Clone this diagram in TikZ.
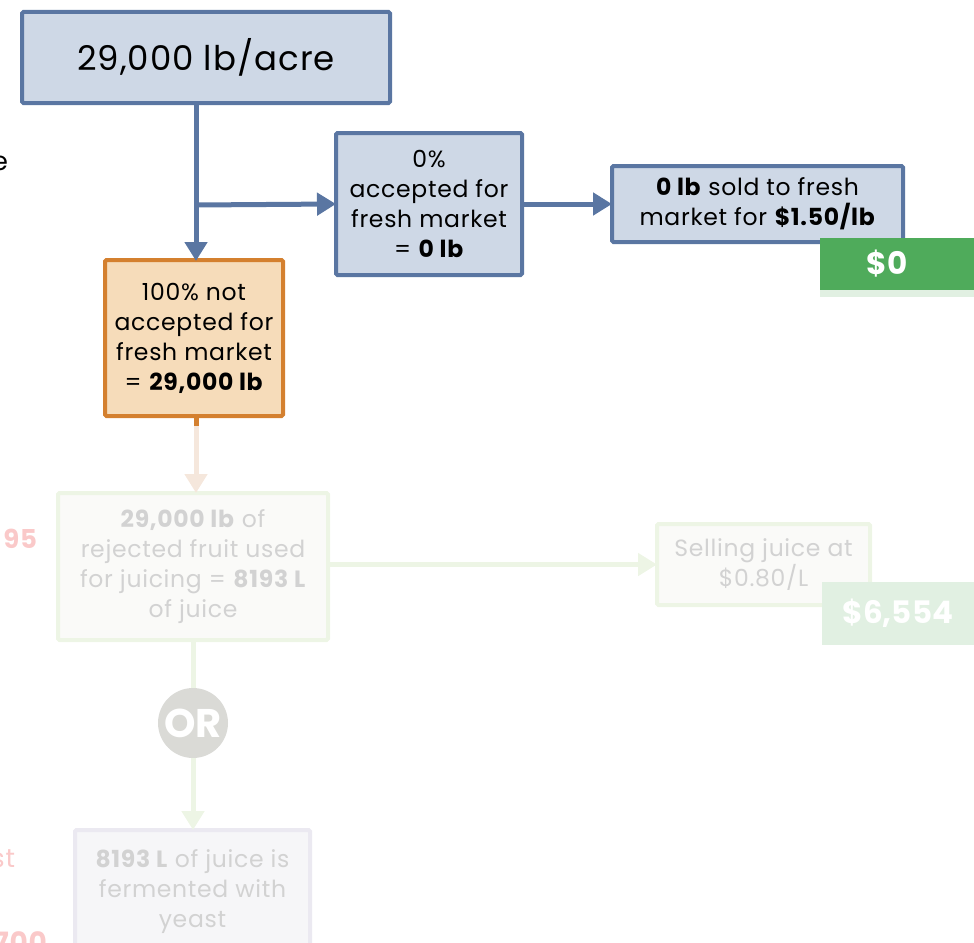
\documentclass[tikz,border=0pt]{standalone}
\usepackage{fontspec}
\setmainfont{Poppins}[LetterSpace=3]
\newfontfamily\tightfont{Poppins}
\usetikzlibrary{arrows.meta}

\definecolor{bluefill}{HTML}{CED8E6}
\definecolor{blueline}{HTML}{5A76A2}
\definecolor{orfill}{HTML}{F6DCBA}
\definecolor{orline}{HTML}{D4802F}
\definecolor{orpale}{HTML}{F5E7DC}
\definecolor{grnpale}{HTML}{EDF5E5}
\definecolor{boxpale}{HTML}{FAFAF8}
\definecolor{txtpale}{HTML}{D2D2D2}
\definecolor{money}{HTML}{4FAB5B}
\definecolor{moneypale}{HTML}{E1F0E2}
\definecolor{orcirc}{HTML}{DADAD6}
\definecolor{lavfill}{HTML}{F6F6F8}
\definecolor{lavline}{HTML}{EBE9F1}
\definecolor{redpale}{HTML}{FAC9C9}

\tikzset{
  every node/.style={inner sep=0pt, outer sep=0pt},
  boxtext/.style={align=center, font=\fontsize{23.5}{30}\selectfont},
  bluebox/.style={draw=blueline, fill=bluefill, line width=4pt, rounded corners=1.5pt, boxtext},
  orbox/.style={draw=orline, fill=orfill, line width=4pt, rounded corners=1.5pt, boxtext},
  palebox/.style={draw=grnpale, fill=boxpale, line width=4pt, rounded corners=1.5pt,
    boxtext, text=txtpale},
  lavbox/.style={draw=lavline, fill=lavfill, line width=4pt, rounded corners=1.5pt,
    boxtext, text=txtpale},
  moneybox/.style={fill=money, text=white, font=\tightfont\bfseries\fontsize{31}{32}\selectfont},
  flow/.style={line width=5pt, -{Triangle[width=22pt,length=19pt]}},
  sidetext/.style={text=redpale, font=\fontsize{26}{30}\selectfont}
}

\begin{document}
\begin{tikzpicture}[x=1pt,y=-1pt]
\useasboundingbox (0,0) rectangle (974,942);
\clip (0,0) rectangle (974,942);

% labels of the neighbouring column, running off the left edge
\node[anchor=base east, font=\fontsize{26}{30}\selectfont] (lefte) at (8,170) {e};
\node[anchor=base east, sidetext, font=\bfseries\fontsize{26}{30}\selectfont] (left95) at (37,548) {95};
\node[anchor=base east, sidetext] (leftst) at (15,867) {st};
\node[anchor=base east, sidetext, font=\bfseries\fontsize{28}{30}\selectfont] (left700) at (47,952) {700};

% yield and first split
\node[bluebox, minimum width=368pt, minimum height=91pt, font=\fontsize{34}{40}\selectfont]
  (yield) at (206,57.5) {29,000 lb/acre};
\node[bluebox, minimum width=186pt, minimum height=142pt]
  (accept) at (429,204) {0\%\\accepted for\\fresh market\\= \textbf{0 lb}};
\node[bluebox, minimum width=291pt, minimum height=76pt]
  (sold) at (757.5,204) {\textbf{0 lb} sold to fresh\\market for \textbf{\$1.50/lb}};
\node[moneybox, minimum width=154pt, minimum height=52pt] (rev0) at (897,264)
  {\hspace*{-20pt}\$0};
\node[fill=moneypale, minimum width=154pt, minimum height=7pt] (rev0strip) at (897,293.5) {};

\node[orbox, minimum width=178pt, minimum height=156pt]
  (reject) at (194,338) {100\% not\\accepted for\\fresh market\\= \textbf{29,000 lb}};

% faded juicing branch
\node[palebox, minimum width=270pt, minimum height=147pt]
  (juice) at (193,566.5) {\textbf{29,000 lb} of\\rejected fruit used\\for juicing = \textbf{8193 L}\\of juice};
\node[palebox, minimum width=213pt, minimum height=81pt]
  (sell) at (763.5,564.5) {Selling juice at\\\$0.80/L};
\node[moneybox, fill=moneypale, minimum width=152pt, minimum height=63pt] (rev1) at (898,613.5) {\$6,554};
\node[circle, fill=orcirc, minimum size=70pt, text=white, font=\tightfont\bfseries\fontsize{40}{40}\selectfont]
  (or) at (193,723) {OR};
\node[lavbox, minimum width=235pt, minimum height=124pt]
  (ferment) at (192.5,892) {\textbf{8193 L} of juice is\\fermented with\\yeast};

% connectors
\coordinate (split) at (196,205);
\draw[flow, blueline, shorten >=-1pt] (yield.south -| split) -- (reject.north -| split);
\draw[flow, blueline] (split) -- (accept.west);
\draw[flow, blueline] (accept.east |- sold.west) -- (sold.west);

\draw[line width=5pt, orline] (reject.south -| split) -- ++(0,10) coordinate (orend);
\draw[flow, orpale] (orend) -- (juice.north -| split);
\draw[flow, grnpale] (juice.east |- sell.west) -- (sell.west);
\draw[line width=5pt, grnpale] (juice.south -| or) -- (or.north);
\draw[flow, grnpale] (or.south) -- (ferment.north -| or);
\end{tikzpicture}
\end{document}
